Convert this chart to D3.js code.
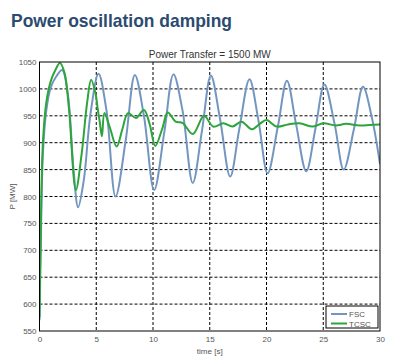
<!DOCTYPE html>
<html lang="en">
<head>
  <meta charset="utf-8">
  <title>Power oscillation damping</title>
  <script type="text/javascript" src="https://d3js.org/d3.v7.min.js"></script>
  <style type="text/css">
    body { margin: 0; background: #fff; }
    svg { font-family: "Liberation Sans", Arial, sans-serif; }
    .tick text { font-size: 8px; fill: #555; }
  </style>
</head>
<body>
  <div id="chart"></div>
  <script type="text/javascript">

    // FSC series (time in s, power in MW)
    const fscTime = [0, 0.1, 0.3, 0.6, 1.0, 1.5, 2.0, 2.5, 3.0, 3.4, 3.9, 4.5, 5.2, 5.9, 6.7, 7.6, 8.4, 9.2, 10.1, 11.0, 11.8, 12.6, 13.5, 14.3, 15.1, 15.9, 16.8, 17.6, 18.5, 19.3, 20.1, 21.0, 21.8, 22.6, 23.5, 24.3, 25.1, 26.0, 26.8, 27.7, 28.5, 29.3, 30]
    const fscPower = [570, 690, 880, 960, 1003, 1024, 1035, 990, 850, 780, 830, 955, 1028, 960, 800, 905, 1026, 950, 812, 920, 1027, 960, 825, 920, 1025, 945, 837, 925, 1018, 940, 843, 930, 1015, 935, 847, 925, 1008, 935, 850, 925, 1004, 945, 860]

    // TCSC series
    const tcscTime = [0, 0.1, 0.3, 0.6, 1.0, 1.4, 1.8, 2.2, 2.6, 3.2, 3.7, 4.2, 4.55, 4.95, 5.12, 5.3, 5.5, 5.72, 6.2, 6.8, 7.3, 7.8, 8.5, 9.2, 9.7, 10.2, 10.8, 11.3, 12.0, 12.6, 13.5, 14.5, 15.3, 16.2, 17.0, 17.8, 18.7, 19.4, 20.0, 20.9, 21.9, 22.9, 24.1, 25.0, 26.1, 27.0, 28.2, 29.1, 30]
    const tcscPower = [575, 720, 900, 975, 1015, 1035, 1048, 1030, 962, 812, 877, 975, 1017, 990, 964, 940, 912, 955, 928, 893, 925, 955, 946, 961, 935, 894, 925, 956, 939, 937, 916, 950, 930, 936, 930, 939, 925, 935, 942, 930, 934, 936, 930, 936, 932, 935, 932, 933, 934]

    const xTicks = [0, 5, 10, 15, 20, 25, 30]
    const yTicks = [550, 600, 650, 700, 750, 800, 850, 900, 950, 1000, 1050]
    const seriesNames = ['FSC', 'TCSC']
    const seriesColors = ['#7396c0', '#2ca53a']

    const width = 408, height = 364
    const plotLeft = 39.5, plotRight = 380, plotTop = 62, plotBottom = 331

    const svg = d3.select('#chart').append('svg')
      .attr('width', width)
      .attr('height', height)

    //Headline
    svg.append('text')
      .attr('x', 11).attr('y', 27)
      .attr('font-size', 19).attr('font-weight', 'bold')
      .attr('fill', '#2b4b70')
      .attr('textLength', 221).attr('lengthAdjust', 'spacingAndGlyphs')
      .text('Power oscillation damping')

    svg.append('text')
      .attr('x', (plotLeft + plotRight) / 2).attr('y', 58)
      .attr('text-anchor', 'middle')
      .attr('font-size', 10).attr('fill', '#333')
      .text('Power Transfer = 1500 MW')

    const x = d3.scaleLinear().domain([0, 30]).range([plotLeft, plotRight])
    const y = d3.scaleLinear().domain([550, 1050]).range([plotBottom, plotTop])

    //Dashed grid
    svg.append('g').selectAll('line')
      .data(yTicks.slice(1, -1)).enter().append('line')
      .attr('x1', plotLeft).attr('x2', plotRight)
      .attr('y1', d => y(d)).attr('y2', d => y(d))
      .attr('stroke', '#000').attr('stroke-dasharray', '3,2')
    svg.append('g').selectAll('line')
      .data(xTicks.slice(1, -1)).enter().append('line')
      .attr('y1', plotTop).attr('y2', plotBottom)
      .attr('x1', d => x(d)).attr('x2', d => x(d))
      .attr('stroke', '#000').attr('stroke-dasharray', '3,2')

    //Axes (tick marks hidden, labels only)
    svg.append('g')
      .attr('transform', `translate(0,${plotBottom})`)
      .call(d3.axisBottom(x).tickValues(xTicks).tickSize(0).tickPadding(5).tickFormat(d3.format('d')))
      .call(g => g.select('.domain').remove())
    svg.append('g')
      .attr('transform', `translate(${plotLeft},0)`)
      .call(d3.axisLeft(y).tickValues(yTicks).tickSize(0).tickPadding(3).tickFormat(d3.format('d')))
      .call(g => g.select('.domain').remove())

    //Lines
    const line = d3.line()
      .x(d => x(d[0])).y(d => y(d[1]))
      .curve(d3.curveCatmullRom.alpha(0.5))
    const series = [
      d3.zip(fscTime, fscPower),
      d3.zip(tcscTime, tcscPower)
    ]
    const clip = svg.append('clipPath').attr('id', 'plotclip')
    clip.append('rect').attr('x', plotLeft).attr('y', plotTop)
      .attr('width', plotRight - plotLeft).attr('height', plotBottom - plotTop)
    svg.append('g').attr('clip-path', 'url(#plotclip)')
      .selectAll('path').data(series).enter().append('path')
      .attr('d', line)
      .attr('fill', 'none')
      .attr('stroke', (d, i) => seriesColors[i])
      .attr('stroke-width', 2)

    //Plot frame
    svg.append('rect')
      .attr('x', plotLeft).attr('y', plotTop)
      .attr('width', plotRight - plotLeft).attr('height', plotBottom - plotTop)
      .attr('fill', 'none').attr('stroke', '#000')

    //Axis titles
    svg.append('text')
      .attr('x', (plotLeft + plotRight) / 2).attr('y', 354)
      .attr('text-anchor', 'middle').attr('font-size', 8).attr('fill', '#555')
      .text('time [s]')
    svg.append('text')
      .attr('transform', `translate(15,${(plotTop + plotBottom) / 2}) rotate(-90)`)
      .attr('text-anchor', 'middle').attr('font-size', 8).attr('fill', '#555')
      .text('P [MW]')

    //Legend
    const legend = svg.append('g')
    legend.append('rect')
      .attr('x', 326).attr('y', 306).attr('width', 52).attr('height', 22)
      .attr('fill', '#fff').attr('stroke', '#000')
    seriesNames.forEach((name, i) => {
      legend.append('line')
        .attr('x1', 331).attr('x2', 347)
        .attr('y1', 314 + i * 9.5).attr('y2', 314 + i * 9.5)
        .attr('stroke', seriesColors[i]).attr('stroke-width', 2)
      legend.append('text')
        .attr('x', 349).attr('y', 317 + i * 9.5)
        .attr('font-size', 8).attr('fill', '#555')
        .text(name)
    })

  </script>
</body>
</html>
